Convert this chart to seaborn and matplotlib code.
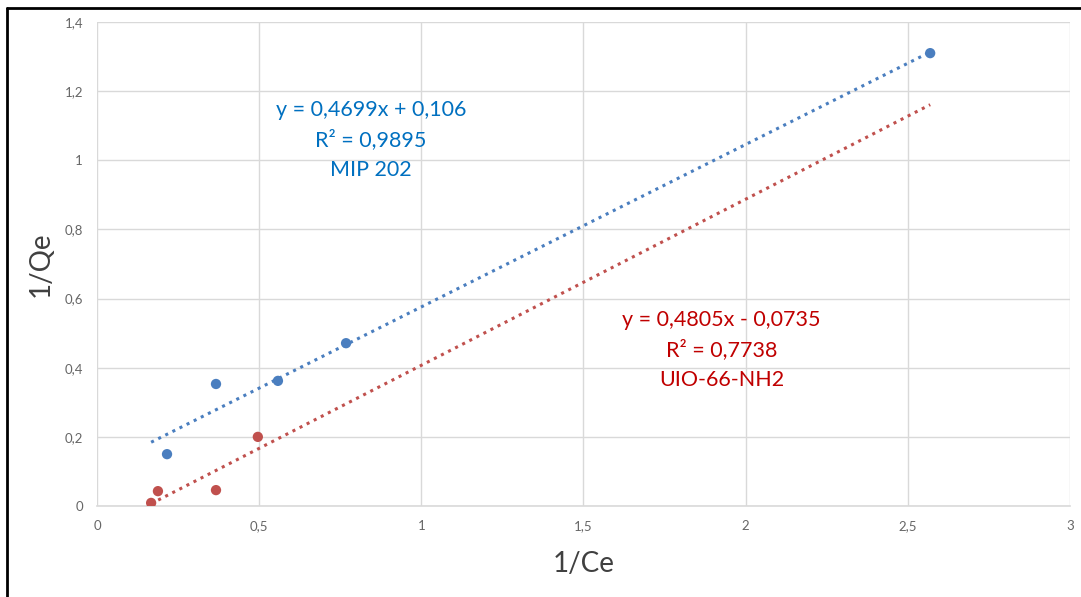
import numpy as np
import pandas as pd
import matplotlib.pyplot as plt
import seaborn as sns
from matplotlib.ticker import FuncFormatter
from matplotlib.lines import Line2D

# Data
mip_x = [0.216, 0.367, 0.558, 0.768, 2.569]
mip_y = [0.150, 0.353, 0.362, 0.471, 1.310]
uio_x = [0.167, 0.188, 0.367, 0.496]
uio_y = [0.009, 0.043, 0.046, 0.200]

# Trendlines (from the printed equations)
mip_slope, mip_icpt = 0.4699, 0.106
uio_slope, uio_icpt = 0.4805, -0.0735
trend_x = [0.167, 2.569]

mip_labels = ["y = 0,4699x + 0,106", "R² = 0,9895", "MIP 202"]
uio_labels = ["y = 0,4805x - 0,0735", "R² = 0,7738", "UIO-66-NH2"]

blue = "#4a7ebf"
red = "#c0504d"
blue_txt = "#0070c0"
red_txt = "#c00000"

sns.set_theme(style="white")
plt.rcParams['font.family'] = ['Lato', 'DejaVu Sans']

fig = plt.figure(figsize=(10.81, 5.97), dpi=100)
ax = fig.add_axes([0.0897, 0.1524, 0.9001, 0.8107])

pts = pd.concat([
    pd.DataFrame({'x': mip_x, 'y': mip_y, 's': 'MIP 202'}),
    pd.DataFrame({'x': uio_x, 'y': uio_y, 's': 'UIO-66-NH2'}),
])
trend = pd.concat([
    pd.DataFrame({'x': trend_x, 'y': [mip_slope * v + mip_icpt for v in trend_x], 's': 'MIP 202'}),
    pd.DataFrame({'x': trend_x, 'y': [uio_slope * v + uio_icpt for v in trend_x], 's': 'UIO-66-NH2'}),
])
pal = {'MIP 202': blue, 'UIO-66-NH2': red}

sns.lineplot(data=trend, x='x', y='y', hue='s', palette=pal, ax=ax, legend=False,
             linestyle=(0, (1, 1.6)), linewidth=2.2)
sns.scatterplot(data=pts, x='x', y='y', hue='s', palette=pal, ax=ax, legend=False,
                s=55, edgecolor='none', zorder=3)

ax.set_xlim(0, 3)
ax.set_ylim(0, 1.4)
ax.set_xticks(np.arange(0, 3.01, 0.5))
ax.set_yticks(np.arange(0, 1.41, 0.2))
fmt = FuncFormatter(lambda v, p: f"{v:g}".replace('.', ','))
ax.xaxis.set_major_formatter(fmt)
ax.yaxis.set_major_formatter(fmt)
ax.tick_params(axis='both', labelsize=9.5, colors='#666666', length=0, pad=10)
ax.grid(True, color='#d9d9d9', linewidth=1)
for side in ['top', 'right', 'left']:
    ax.spines[side].set_visible(False)
ax.spines['bottom'].set_color('#d9d9d9')
ax.spines['bottom'].set_linewidth(1.2)

ax.set_xlabel('1/Ce', fontsize=20, color='#404040', labelpad=14)
ax.set_ylabel('1/Qe', fontsize=20, color='#404040', labelpad=8)

# equation labels, one line each
for lbl, yy in zip(mip_labels, [1.1455, 1.0587, 0.972]):
    ax.text(0.845, yy, lbl, color=blue_txt, fontsize=15.5, ha='center', va='center')
for lbl, yy in zip(uio_labels, [0.538, 0.451, 0.3645]):
    ax.text(1.926, yy, lbl, color=red_txt, fontsize=15.5, ha='center', va='center')

# black frame on left and top like the screenshot
fig.add_artist(Line2D([0.0069, 0.0069], [0, 0.986], transform=fig.transFigure, color='black', linewidth=2))
fig.add_artist(Line2D([0.0069, 1], [0.986, 0.986], transform=fig.transFigure, color='black', linewidth=2))

fig.savefig('out.png', dpi=100)
